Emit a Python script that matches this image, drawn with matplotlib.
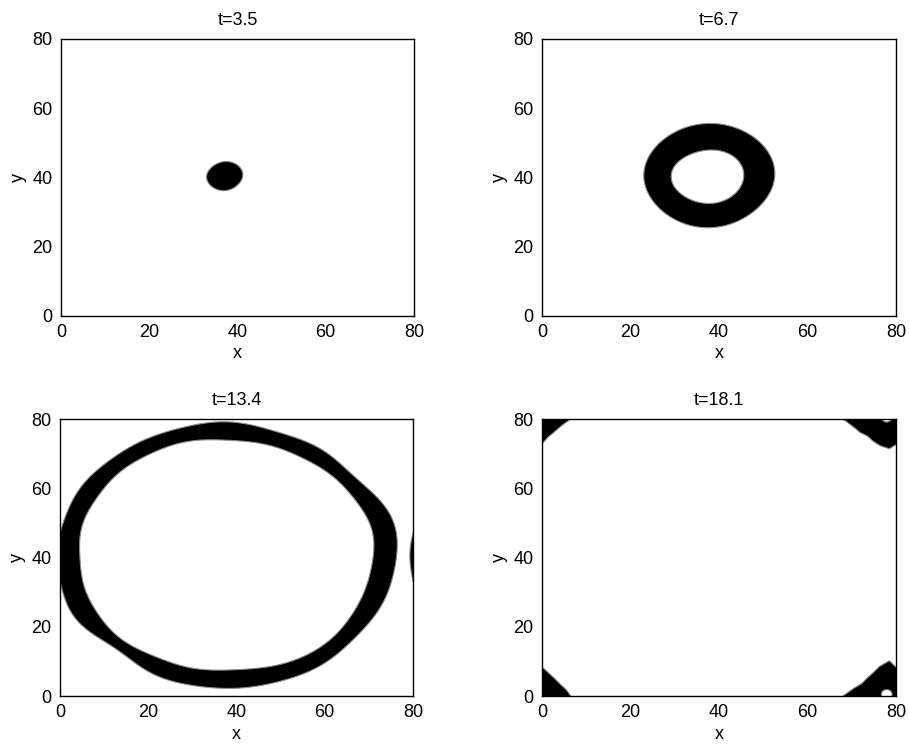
import numpy as np
import matplotlib
matplotlib.use("Agg")
import matplotlib.pyplot as plt
from matplotlib.path import Path
from matplotlib.patches import PathPatch, Ellipse

plt.rcParams['font.family'] = ['Liberation Sans', 'DejaVu Sans']

L = 80.0  # taille du domaine (periodique)
titres = ["t=3.5", "t=6.7", "t=13.4", "t=18.1"]
graduations = [0, 20, 40, 60, 80]

# t=3.5 : petite tache (rayons tous les 45 deg)
tache_centre = (37.1, 40.4)
tache_r = [4.1, 4.3, 4.2, 3.9, 4.1, 4.2, 4.2, 3.9]

# t=6.7 : anneau (rayons tous les 45 deg)
anneau2_centre = (37.5, 40.5)
anneau2_ext = [15.1, 15.2, 15.1, 14.5, 14.5, 14.5, 15.0, 14.6]
anneau2_int = [8.1, 8.0, 7.4, 7.5, 8.3, 8.0, 8.0, 8.0]

# t=13.4 : grand anneau (rayons tous les 15 deg)
anneau3_centre = (37.5, 40.5)
anneau3_ext = [38.8, 39.3, 37.8, 37.2, 37.7, 37.8, 38.7, 38.3, 38.2, 38.1, 38.3, 38.0,
               38.2, 38.3, 38.4, 36.7, 37.5, 38.2, 38.3, 38.3, 38.4, 37.9, 37.9, 38.3]
anneau3_int = [33.5, 34.0, 33.5, 33.4, 33.2, 33.4, 33.4, 34.1, 34.0, 34.0, 33.6, 33.6,
               33.0, 33.2, 33.4, 33.7, 33.2, 33.3, 33.0, 33.4, 34.0, 33.9, 33.3, 33.1]

# t=18.1 : front revenu par les coins (contour polygonal autour du coin)
coin_centre = (78.5, 0.0)
coin_angles = [0, 15, 30, 45, 60, 75, 80, 90, 105, 120, 135, 150, 165, 180,
               195, 210, 225, 240, 255, 270, 281, 285, 300, 315, 330, 345]
coin_r = [8.0, 7.2, 6.6, 6.6, 7.0, 8.0, 8.5, 10.2, 8.8, 7.6, 7.2, 7.2, 8.4, 10.5,
          8.5, 7.7, 7.0, 7.4, 8.0, 8.6, 7.6, 7.0, 5.9, 5.7, 5.8, 6.4]
trou_centre = (77.9, 0.5)
trou_taille = (2.5, 2.8)


def lisse(r, n=360):
    # courbe fermee lisse passant par les rayons lus
    r = np.asarray(r, float)
    m = len(r)
    c = np.fft.rfft(r)
    if m % 2 == 0:
        c[-1] *= 0.5
    return np.fft.irfft(c, n) * n / m


def contour(centre, r, angles=None, smooth=True):
    if smooth:
        rr = lisse(r)
        th = np.linspace(0, 2 * np.pi, len(rr), endpoint=False)
    else:
        rr = np.asarray(r, float)
        th = np.radians(angles)
    x = centre[0] + rr * np.cos(th)
    y = centre[1] + rr * np.sin(th)
    pts = np.column_stack([x, y])
    return np.vstack([pts, pts[:1]])


def forme(ax, exterieur, interieur=None, decalages=((0, 0),)):
    for dx, dy in decalages:
        d = np.array([dx, dy])
        chemins = [Path(exterieur + d, closed=True)]
        if interieur is not None:
            chemins.append(Path((interieur + d)[::-1], closed=True))
        p = Path.make_compound_path(*chemins)
        ax.add_patch(PathPatch(p, facecolor="black", edgecolor="0.55", lw=0.8))


fig = plt.figure(figsize=(9.09, 7.44), dpi=100)
positions = [[0.0671, 0.5753, 0.3883, 0.3723], [0.5963, 0.5753, 0.3894, 0.3723],
             [0.0660, 0.0645, 0.3883, 0.3723], [0.5963, 0.0645, 0.3894, 0.3723]]
axes = [fig.add_axes(p) for p in positions]

forme(axes[0], contour(tache_centre, tache_r))
forme(axes[1], contour(anneau2_centre, anneau2_ext), contour(anneau2_centre, anneau2_int))
forme(axes[2], contour(anneau3_centre, anneau3_ext), contour(anneau3_centre, anneau3_int),
      decalages=((0, 0), (L, 0)))
forme(axes[3], contour(coin_centre, coin_r, coin_angles, smooth=False),
      decalages=((0, 0), (-L, 0), (0, L), (-L, L)))
for dy in (0, L):
    axes[3].add_patch(Ellipse((trou_centre[0], trou_centre[1] + dy), trou_taille[0],
                              trou_taille[1], facecolor="white", edgecolor="0.4", lw=0.8))

for ax, titre in zip(axes, titres):
    ax.set_xlim(0, L)
    ax.set_ylim(0, L)
    ax.set_xticks(graduations)
    ax.set_yticks(graduations)
    ax.tick_params(length=0, labelsize=13, pad=6)
    ax.set_xlabel("x", fontsize=13, labelpad=3)
    ax.set_ylabel("y", fontsize=13, labelpad=4)
    ax.set_title(titre, fontsize=13, pad=10)
    for s in ax.spines.values():
        s.set_linewidth(1.0)
        s.set_zorder(5)

plt.savefig("out.png", dpi=100)
